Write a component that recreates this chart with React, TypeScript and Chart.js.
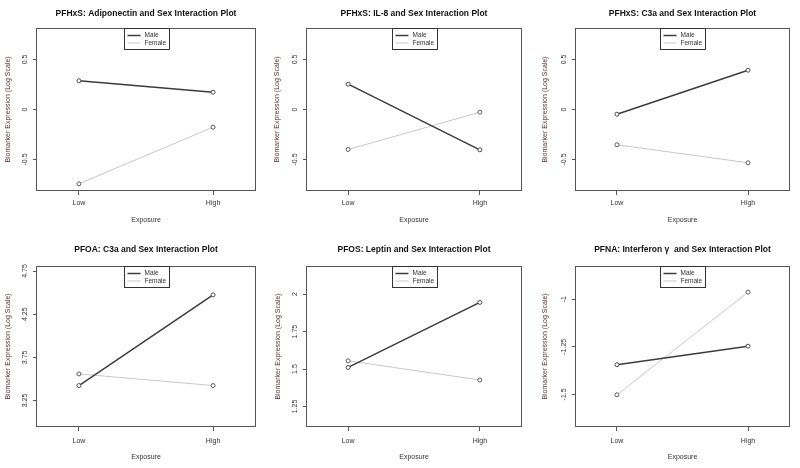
import React, { useEffect, useRef } from "react";
import { Chart, registerables } from "chart.js";

Chart.register(...registerables);

// ---------- data ----------
const exposureLevels = ["Low", "High"];
const sexLabels = ["Male", "Female"];

const adiponectinMale = [0.287, 0.173];
const adiponectinFemale = [-0.743, -0.177];
const il8Male = [0.253, -0.403];
const il8Female = [-0.4, -0.027];
const c3aPfhxsMale = [-0.047, 0.393];
const c3aPfhxsFemale = [-0.353, -0.533];
const c3aPfoaMale = [3.423, 4.473];
const c3aPfoaFemale = [3.558, 3.423];
const leptinMale = [1.511, 1.945];
const leptinFemale = [1.555, 1.427];
const ifngMale = [-1.344, -1.247];
const ifngFemale = [-1.502, -0.963];

const ticksPfhxs = [-0.5, 0, 0.5];
const ticksPfoa = [3.25, 3.75, 4.25, 4.75];
const ticksPfos = [1.25, 1.5, 1.75, 2];
const ticksPfna = [-1.5, -1.25, -1];

const titles = [
  "PFHxS: Adiponectin and Sex Interaction Plot",
  "PFHxS: IL-8 and Sex Interaction Plot",
  "PFHxS: C3a and Sex Interaction Plot",
  "PFOA: C3a and Sex Interaction Plot",
  "PFOS: Leptin and Sex Interaction Plot",
  "PFNA: Interferon \u03B3  and Sex Interaction Plot",
];
const yAxisTitle = "Biomarker Expression (Log Scale)";
const xAxisTitle = "Exposure";

// ---------- layout / style ----------
const FAMILY = '"Liberation Sans", Arial, sans-serif';
const MALE_COLOR = "#3c3c3c";
const FEMALE_COLOR = "#c8c8c8";
const AXIS_COLOR = "#555555";

type PanelCfg = {
  title: string;
  male: number[];
  female: number[];
  yMin: number;
  yMax: number;
  yTicks: number[];
  x: number;
  y: number;
  w: number;
  h: number;
  area: { l: number; t: number; r: number; b: number };
  titleY: number;
  yTitleX: number;
  xLabelPad: number;
  xTitleY: number;
};

const panels: PanelCfg[] = [
  { title: titles[0], male: adiponectinMale, female: adiponectinFemale, yMin: -0.815, yMax: 0.815, yTicks: ticksPfhxs,
    x: 0, y: 0, w: 265, h: 234, area: { l: 36, t: 28, r: 256, b: 191 }, titleY: 13.3, yTitleX: 8.3, xLabelPad: 4.3, xTitleY: 220 },
  { title: titles[1], male: il8Male, female: il8Female, yMin: -0.815, yMax: 0.815, yTicks: ticksPfhxs,
    x: 265, y: 0, w: 265, h: 234, area: { l: 41, t: 28, r: 257, b: 191 }, titleY: 13.3, yTitleX: 12.3, xLabelPad: 4.3, xTitleY: 220 },
  { title: titles[2], male: c3aPfhxsMale, female: c3aPfhxsFemale, yMin: -0.815, yMax: 0.815, yTicks: ticksPfhxs,
    x: 530, y: 0, w: 270, h: 234, area: { l: 45, t: 28, r: 260, b: 191 }, titleY: 13.3, yTitleX: 15, xLabelPad: 4.3, xTitleY: 220 },
  { title: titles[3], male: c3aPfoaMale, female: c3aPfoaFemale, yMin: 2.943, yMax: 4.808, yTicks: ticksPfoa,
    x: 0, y: 234, w: 265, h: 234, area: { l: 36, t: 32, r: 256, b: 193 }, titleY: 15.7, yTitleX: 8.3, xLabelPad: 5.5, xTitleY: 222.7 },
  { title: titles[4], male: leptinMale, female: leptinFemale, yMin: 1.113, yMax: 2.188, yTicks: ticksPfos,
    x: 265, y: 234, w: 265, h: 234, area: { l: 41, t: 32, r: 257, b: 193 }, titleY: 15.7, yTitleX: 13.3, xLabelPad: 5.5, xTitleY: 222.7 },
  { title: titles[5], male: ifngMale, female: ifngFemale, yMin: -1.671, yMax: -0.826, yTicks: ticksPfna,
    x: 530, y: 234, w: 270, h: 234, area: { l: 45, t: 32, r: 260, b: 193 }, titleY: 15.7, yTitleX: 15, xLabelPad: 5.5, xTitleY: 222.7 },
];

const TITLE_SIZE = 8.5;
const AXIS_SIZE = 7;
const LEGEND_SIZE = 6.5;

function widest(labels: string[], font: string): number {
  const c = document.createElement("canvas").getContext("2d");
  if (!c) return 10;
  c.font = font;
  return Math.max(...labels.map((l) => c.measureText(l).width));
}

const boxPlugin = {
  id: "plotBox",
  afterDraw(chart: any) {
    const { ctx, chartArea } = chart;
    ctx.save();
    ctx.strokeStyle = AXIS_COLOR;
    ctx.lineWidth = 1;
    ctx.strokeRect(
      Math.round(chartArea.left) + 0.5,
      Math.round(chartArea.top) + 0.5,
      Math.round(chartArea.right - chartArea.left) - 1,
      Math.round(chartArea.bottom - chartArea.top) - 1
    );
    // legend box at the top centre of the plot region
    const ds = chart.data.datasets;
    const w = 45;
    const h = 21;
    const cx = (chartArea.left + chartArea.right) / 2;
    const x0 = Math.round(cx - w / 2) + 0.5;
    const y0 = Math.round(chartArea.top) + 0.5;
    ctx.fillStyle = "#ffffff";
    ctx.fillRect(x0, y0, w, h);
    ctx.strokeStyle = "#333333";
    ctx.strokeRect(x0, y0, w, h);
    ctx.font = `${LEGEND_SIZE}px ${FAMILY}`;
    ctx.textBaseline = "middle";
    ctx.textAlign = "left";
    ds.forEach((d: any, i: number) => {
      const ly = y0 + 7 + i * 7.5;
      ctx.strokeStyle = d.borderColor;
      ctx.lineWidth = d.borderWidth;
      ctx.beginPath();
      ctx.moveTo(x0 + 3, ly);
      ctx.lineTo(x0 + 16, ly);
      ctx.stroke();
      ctx.fillStyle = "#333333";
      ctx.fillText(d.label, x0 + 20, ly);
    });
    ctx.restore();
  },
};

function Panel({ cfg }: { cfg: PanelCfg }) {
  const ref = useRef<HTMLCanvasElement>(null);
  useEffect(() => {
    if (!ref.current) return;
    const tickFont = `${AXIS_SIZE}px ${FAMILY}`;
    const wid = widest(cfg.yTicks.map((v) => String(v)), tickFont);
    const yTickLen = 3;
    const yLabelPad = 10.5 - yTickLen - wid / 2;
    const titleLH = TITLE_SIZE * 1.2;
    const titlePadTop = cfg.titleY - titleLH / 2;
    const titlePadBottom = cfg.area.t - titlePadTop - titleLH;
    const axisLH = AXIS_SIZE * 1.2;
    const yTitlePad = cfg.yTitleX - axisLH / 2;
    const xTitlePad = cfg.h - cfg.xTitleY - axisLH / 2;

    const toPoints = (vals: number[]) => vals.map((v, i) => ({ x: i + 1, y: v }));

    const chart = new Chart(ref.current, {
      type: "line",
      data: {
        datasets: [
          {
            label: sexLabels[0],
            data: toPoints(cfg.male),
            borderColor: MALE_COLOR,
            borderWidth: 1.5,
            pointRadius: 2,
            pointBorderWidth: 1,
            pointBorderColor: "#4a4a4a",
            pointBackgroundColor: "#ffffff",
            fill: false,
            tension: 0,
          },
          {
            label: sexLabels[1],
            data: toPoints(cfg.female),
            borderColor: FEMALE_COLOR,
            borderWidth: 1,
            pointRadius: 2,
            pointBorderWidth: 1,
            pointBorderColor: "#5a5a5a",
            pointBackgroundColor: "#ffffff",
            fill: false,
            tension: 0,
          },
        ],
      },
      options: {
        responsive: false,
        animation: false,
        events: [],
        layout: {
          autoPadding: false,
          padding: { left: 0, top: 0, right: cfg.w - cfg.area.r, bottom: 0 },
        },
        plugins: {
          legend: { display: false },
          tooltip: { enabled: false },
          title: {
            display: true,
            text: cfg.title,
            fullSize: false,
            color: "#111111",
            font: { family: FAMILY, size: TITLE_SIZE, weight: "bold" },
            padding: { top: titlePadTop, bottom: titlePadBottom },
          },
        },
        scales: {
          x: {
            type: "linear",
            min: 0.68,
            max: 2.32,
            afterBuildTicks: (s: any) => {
              s.ticks = exposureLevels.map((_, i) => ({ value: i + 1 }));
            },
            afterFit: (s: any) => {
              s.height = cfg.h - cfg.area.b;
            },
            ticks: {
              autoSkip: false,
              minRotation: 0,
              maxRotation: 0,
              padding: cfg.xLabelPad,
              color: "#333333",
              font: { family: FAMILY, size: AXIS_SIZE },
              callback: (v: any) => exposureLevels[Math.round(Number(v)) - 1] ?? "",
            },
            grid: {
              display: true,
              drawOnChartArea: false,
              drawTicks: true,
              tickLength: 4,
              color: AXIS_COLOR,
              tickColor: AXIS_COLOR,
            },
            border: { display: false },
            title: {
              display: true,
              text: xAxisTitle,
              color: "#333333",
              font: { family: FAMILY, size: AXIS_SIZE },
              padding: { top: 0, bottom: xTitlePad },
            },
          },
          y: {
            type: "linear",
            min: cfg.yMin,
            max: cfg.yMax,
            afterBuildTicks: (s: any) => {
              s.ticks = cfg.yTicks.map((v) => ({ value: v }));
            },
            afterFit: (s: any) => {
              s.width = cfg.area.l;
            },
            ticks: {
              autoSkip: false,
              minRotation: 90,
              maxRotation: 90,
              crossAlign: "center",
              padding: yLabelPad,
              color: "#333333",
              font: { family: FAMILY, size: AXIS_SIZE },
              callback: (v: any) => String(v),
            },
            grid: {
              display: true,
              drawOnChartArea: false,
              drawTicks: true,
              tickLength: yTickLen,
              color: AXIS_COLOR,
              tickColor: AXIS_COLOR,
            },
            border: { display: false },
            title: {
              display: true,
              text: yAxisTitle,
              color: "#5a3030",
              font: { family: FAMILY, size: AXIS_SIZE },
              padding: { top: yTitlePad, bottom: 0 },
            },
          },
        },
      } as any,
      plugins: [boxPlugin],
    });
    return () => chart.destroy();
  }, [cfg]);

  return (
    <canvas
      ref={ref}
      width={cfg.w}
      height={cfg.h}
      style={{ position: "absolute", left: cfg.x, top: cfg.y, width: cfg.w, height: cfg.h, display: "block" }}
    />
  );
}

export default function App() {
  return (
    <div
      style={{
        position: "fixed",
        left: 0,
        top: 0,
        width: 800,
        height: 468,
        background: "#ffffff",
        overflow: "hidden",
      }}
    >
      {panels.map((p, i) => (
        <Panel key={i} cfg={p} />
      ))}
    </div>
  );
}
